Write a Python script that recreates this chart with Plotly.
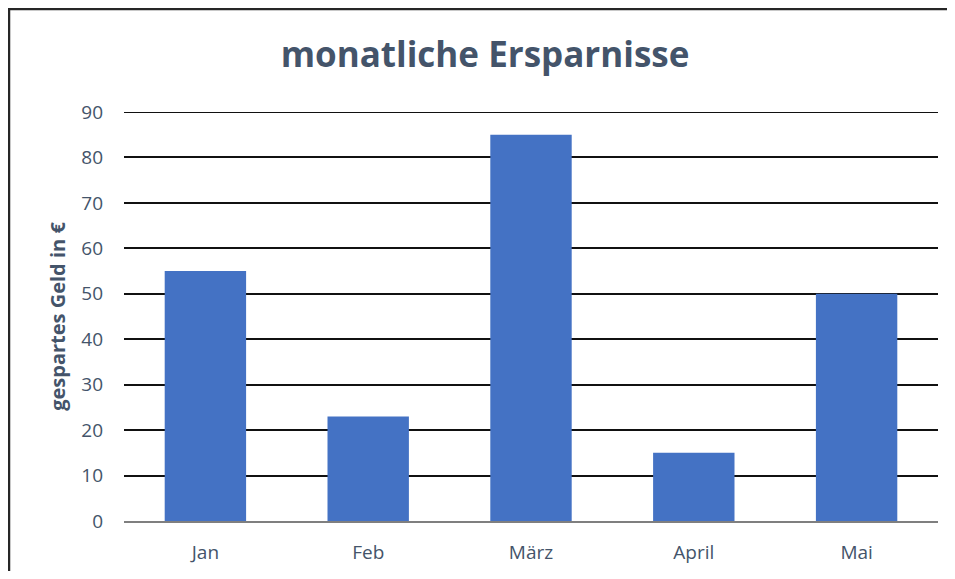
import plotly.graph_objects as go

months = ["Jan", "Feb", "März", "April", "Mai"]
savings = [55, 23, 85, 15, 50]
y_ticks = [0, 10, 20, 30, 40, 50, 60, 70, 80, 90]

# The page adds an 8px body margin; keep the figure inside the window
W, H = 939, 563
ml, mr, mt, mb = 116, 9, 104, 50
pw = W - ml - mr
ph = H - mt - mb

fig = go.Figure()
fig.add_trace(go.Bar(
    x=months, y=savings,
    marker=dict(color="#4472C4", line=dict(width=0)),
))

font_fam = "'Open Sans', sans-serif"
txt_col = "#44546A"

fig.update_layout(
    width=W, height=H,
    margin=dict(l=ml, r=mr, t=mt, b=mb, autoexpand=False),
    paper_bgcolor="white", plot_bgcolor="white",
    bargap=0.5,
    showlegend=False,
    font=dict(family=font_fam, color=txt_col),
    title=dict(text="<b>monatliche Ersparnisse</b>", x=477 / W, xanchor="center", xref="container",
               y=1 - 47 / H, yanchor="middle",
               font=dict(size=35, color=txt_col, family=font_fam)),
)
fig.update_yaxes(
    range=[0, 90], tickvals=y_ticks, ticktext=[str(v) for v in y_ticks],
    showgrid=True, gridcolor="#111111", gridwidth=2,
    zeroline=False, showline=False, automargin=False,
    tickfont=dict(size=19, color=txt_col),
    ticklabelstandoff=20,
    title=dict(text="<b>gespartes Geld in €</b>", font=dict(size=20, color=txt_col), standoff=10),
)
fig.update_xaxes(
    showgrid=False, zeroline=False, automargin=False,
    showline=True, linecolor="#7F7F7F", linewidth=2,
    tickfont=dict(size=19, color=txt_col),
    ticklabelstandoff=13,
)

# top gridline (plotly drops the grid line lying on the plot edge)
fig.add_shape(type="line", xref="paper", yref="y",
              x0=0, x1=1, y0=y_ticks[-1], y1=y_ticks[-1],
              line=dict(color="#111111", width=2), layer="below")

# chart border: left and top edges of the chart frame
fig.add_shape(type="line", xref="paper", yref="paper",
              x0=(1 - ml) / pw, x1=(1 - ml) / pw, y0=-mb / ph, y1=(H - mb - 1) / ph,
              line=dict(color="#262626", width=2.5), layer="above")
fig.add_shape(type="line", xref="paper", yref="paper",
              x0=(0 - ml) / pw, x1=(W - ml) / pw, y0=(H - mb - 1) / ph, y1=(H - mb - 1) / ph,
              line=dict(color="#262626", width=2.5), layer="above")

fig.write_html("out.html")
